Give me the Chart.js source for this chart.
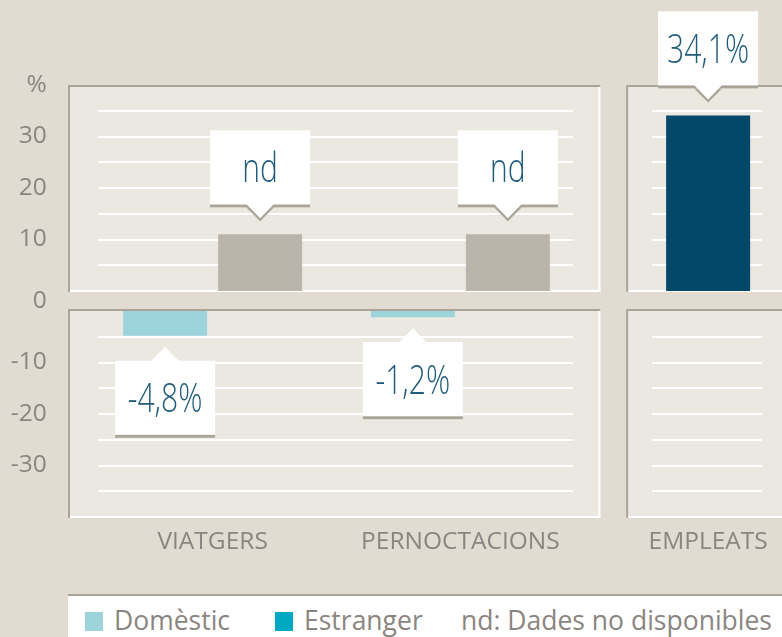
<!DOCTYPE html>
<html>
<head>
<meta charset="utf-8">
<script src="https://cdn.jsdelivr.net/npm/chart.js@4.4.1/dist/chart.umd.min.js"></script>
<style>
  html, body { margin: 0; padding: 0; width: 782px; height: 637px; overflow: hidden; background: #e2dbd2; }
  #wrap { position: relative; width: 782px; height: 637px; overflow: hidden; }
  #chart { position: absolute; left: 0; top: 0; }
  .legend { position: absolute; left: 68px; top: 594px; width: 714px; height: 43px; background: #fff;
            border-top: 2px solid #a8a498; box-sizing: border-box; font-family: 'Open Sans', sans-serif;
            font-size: 26.5px; color: #8a8580; }
  .legend span { position: absolute; top: 11px; line-height: 26px; white-space: nowrap; }
  .legend i { position: absolute; top: 16px; width: 18px; height: 19px; }
</style>
</head>
<body>
<div id="wrap">
  <canvas id="chart" width="832" height="594"></canvas>
  <div class="legend">
    <i style="left:17px;background:#9dd4dc"></i><span style="left:46px">Domèstic</span>
    <i style="left:207px;background:#00a8c1"></i><span style="left:236px">Estranger</span>
    <span style="left:393px">nd: Dades no disponibles</span>
  </div>
</div>
<script>
// ── data ──
const categories = ['VIATGERS', 'PERNOCTACIONS', 'EMPLEATS'];
const domestic = [-4.8, -1.2, null];
const estrangerNd = [11, 11, null];      // grey "nd" placeholder bars
const empleats = [null, null, 34.1];
const domesticLabels = ['-4,8%', '-1,2%', null];
const estrangerLabels = ['nd', 'nd', null];
const empleatsLabels = [null, null, '34,1%'];
const yTickStep = 10;
const gridStep = 5;
const yUnit = '%';

const TEXT = '#8a8580';
const FONT = "'Open Sans', sans-serif";
const PANEL = '#ebe8e1';
const EDGE = '#a8a498';

// panel groups (category index ranges) with their extra margins
const groups = [
  { from: 0, to: 1, padL: 144.6, padR: 140, gridL: 114.6, gridR: 112.6 },
  { from: 2, to: 2, padL: 82, padR: 150, gridL: 56, gridR: 54 }
];

const panelPlugin = {
  id: 'panels',
  beforeDatasetsDraw(chart) {
    const { ctx, scales: { x, yTop, yBot } } = chart;
    const bands = [
      { s: yTop, top: yTop.top, bottom: yTop.bottom + 1, vals: [] },
      { s: yBot, top: yBot.top - 2, bottom: yBot.bottom + 1, vals: [] }
    ];
    for (let v = gridStep; v < yTop.max; v += gridStep) bands[0].vals.push(v);
    for (let v = -gridStep; v > yBot.min; v -= gridStep) bands[1].vals.push(v);
    ctx.save();
    groups.forEach(g => {
      const l = x.getPixelForValue(g.from) - g.padL;
      const r = x.getPixelForValue(g.to) + g.padR;
      const gl = x.getPixelForValue(g.from) - g.gridL;
      const gr = x.getPixelForValue(g.to) + g.gridR;
      bands.forEach(b => {
        ctx.fillStyle = PANEL;
        ctx.fillRect(l, b.top, r - l, b.bottom - b.top);
        ctx.fillStyle = '#ffffff';
        ctx.fillRect(l, b.bottom - 2, r - l, 2);
        ctx.fillRect(r - 2, b.top, 2, b.bottom - b.top);
        b.vals.forEach(v => {
          const py = Math.round(b.s.getPixelForValue(v));
          ctx.fillRect(gl, py - 1, gr - gl, 2);
        });
        ctx.fillStyle = EDGE;
        ctx.fillRect(l, b.top, r - l, 2);
        ctx.fillRect(l, b.top, 2, b.bottom - b.top);
      });
    });
    ctx.restore();
  }
};

function drawCallout(ctx, cx, barY, text, up) {
  const w = 100, h = 74, pw = 14, ph = 14;
  let top;
  ctx.save();
  if (up) {
    top = barY + 25;
    ctx.fillStyle = EDGE;
    ctx.fillRect(cx - w / 2, top + h, w, 3);
    ctx.fillStyle = '#ffffff';
    ctx.fillRect(cx - w / 2, top, w, h);
    ctx.beginPath();
    ctx.moveTo(cx - pw, top + 0.5);
    ctx.lineTo(cx, top - ph);
    ctx.lineTo(cx + pw, top + 0.5);
    ctx.closePath();
    ctx.fill();
  } else {
    const bottom = barY - 30;
    top = bottom - h;
    ctx.fillStyle = EDGE;
    ctx.fillRect(cx - w / 2, bottom, w, 3);
    ctx.beginPath();
    ctx.moveTo(cx - pw, bottom + 3);
    ctx.lineTo(cx, bottom + 3 + ph);
    ctx.lineTo(cx + pw, bottom + 3);
    ctx.closePath();
    ctx.fill();
    ctx.fillStyle = '#ffffff';
    ctx.fillRect(cx - w / 2, top, w, h);
    ctx.beginPath();
    ctx.moveTo(cx - pw, bottom - 0.5);
    ctx.lineTo(cx, bottom + ph);
    ctx.lineTo(cx + pw, bottom - 0.5);
    ctx.closePath();
    ctx.fill();
  }
  const size = 40;
  ctx.translate(cx, top + h / 2 + size * 0.36);
  ctx.scale(0.75, 1);
  ctx.fillStyle = '#1f5b7c';
  ctx.font = `300 ${size}px ${FONT}`;
  ctx.textAlign = 'center';
  ctx.textBaseline = 'alphabetic';
  ctx.fillText(text, 0, 0);
  ctx.restore();
}

const calloutPlugin = {
  id: 'callouts',
  afterDatasetsDraw(chart) {
    const { ctx } = chart;
    chart.data.datasets.forEach((ds, di) => {
      const meta = chart.getDatasetMeta(di);
      ds.callouts.forEach((txt, i) => {
        const bar = meta.data[i];
        if (!txt || !bar || ds.data[i] == null) return;
        drawCallout(ctx, bar.x, bar.y, txt, ds.data[i] < 0);
      });
    });
  }
};

const yCommon = {
  type: 'linear',
  position: 'left',
  stack: 'v',
  grid: { display: false, drawTicks: false },
  border: { display: false },
  afterFit: s => { s.width = 88.75; }
};
const tickFont = { family: FONT, size: 24.5 };

new Chart(document.getElementById('chart'), {
  type: 'bar',
  data: {
    labels: categories,
    datasets: [
      { label: 'Domèstic', data: domestic, backgroundColor: '#9dd4dc', yAxisID: 'yBot', callouts: domesticLabels },
      { label: 'Estranger', data: estrangerNd, backgroundColor: '#bbb4ab', yAxisID: 'yTop', callouts: estrangerLabels },
      { label: 'Empleats', data: empleats, backgroundColor: '#034868', yAxisID: 'yTop', callouts: empleatsLabels }
    ]
  },
  options: {
    responsive: false,
    animation: false,
    layout: { padding: { top: 85, left: 0, right: 0, bottom: 0 } },
    datasets: { bar: { skipNull: true, categoryPercentage: 0.767, barPercentage: 0.9, maxBarThickness: 84 } },
    plugins: { legend: { display: false }, tooltip: { enabled: false } },
    scales: {
      x: {
        grid: { display: false, drawTicks: false },
        border: { display: false },
        ticks: { color: TEXT, font: tickFont, padding: 10, autoSkip: false, maxRotation: 0 },
        afterFit: s => { s.height = 77; }
      },
      yTop: Object.assign({}, yCommon, {
        stackWeight: 206, weight: 3, min: 0, max: 40,
        ticks: { stepSize: yTickStep, padding: 42, color: TEXT, font: tickFont, autoSkip: false,
                 callback: v => v === 40 ? yUnit : (v === 0 ? '' : v) }
      }),
      yGap: Object.assign({}, yCommon, {
        stackWeight: 20, weight: 2, min: -1, max: 1,
        afterBuildTicks: s => { s.ticks = [{ value: 0 }]; },
        ticks: { padding: 42, color: TEXT, font: tickFont, autoSkip: false, callback: () => '0' }
      }),
      yBot: Object.assign({}, yCommon, {
        stackWeight: 206, weight: 1, min: -40, max: 0,
        ticks: { stepSize: yTickStep, padding: 42, color: TEXT, font: tickFont, autoSkip: false,
                 callback: v => (v === 0 || v === -40) ? '' : v }
      })
    }
  },
  plugins: [panelPlugin, calloutPlugin]
});
</script>
</body>
</html>
